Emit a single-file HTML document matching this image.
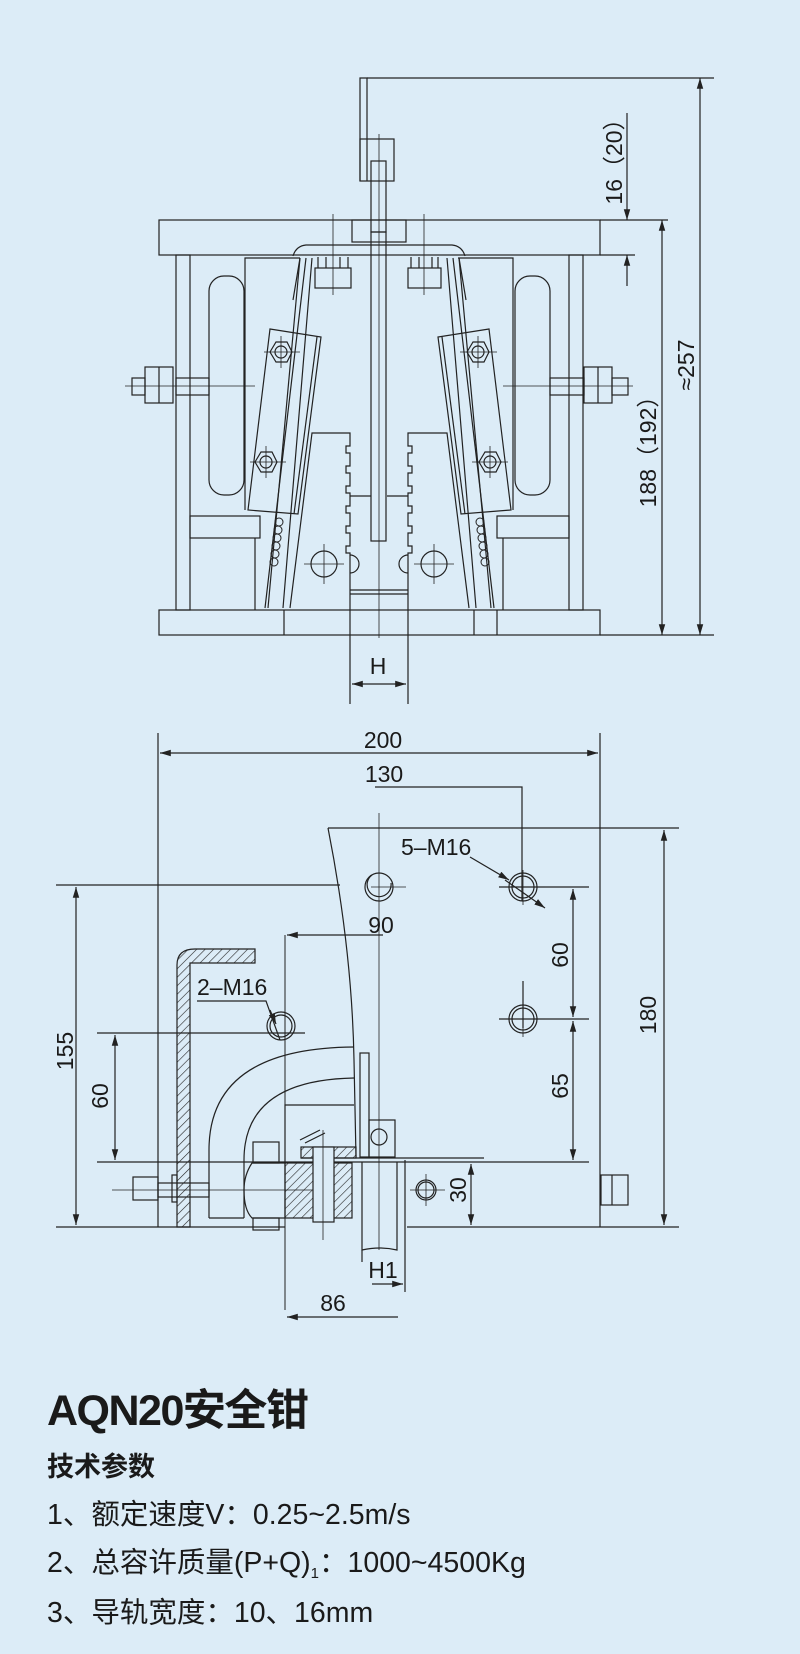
<!DOCTYPE html>
<html><head><meta charset="utf-8"><style>
html,body{margin:0;padding:0;background:#dcecf7;}
svg{display:block;}
.t{font-family:"Liberation Sans","Noto Sans CJK SC",sans-serif;fill:#1a1a1a;}
</style></head><body>
<svg width="800" height="1654" viewBox="0 0 800 1654" xmlns="http://www.w3.org/2000/svg">
<defs>
<pattern id="h" patternUnits="userSpaceOnUse" width="6" height="6" patternTransform="rotate(45)">
<line x1="0" y1="0" x2="0" y2="6" stroke="#222" stroke-width="1.2"/></pattern>
<marker id="a" viewBox="0 0 10 10" refX="10" refY="5" markerWidth="9" markerHeight="9" orient="auto-start-reverse"><path d="M0,2 L10,5 L0,8 z" fill="#222"/></marker>
</defs>
<rect width="800" height="1654" fill="#dcecf7"/>
<g fill="none" stroke="#222" stroke-width="1.2">
<rect x="159" y="220" width="441" height="35"/>
<rect x="159" y="610" width="441" height="25"/>
<line x1="284" y1="610" x2="284" y2="635"/><line x1="474" y1="610" x2="474" y2="635"/><line x1="497" y1="610" x2="497" y2="635"/>
<rect x="176" y="255" width="14" height="355"/><rect x="569" y="255" width="14" height="355"/>
<path d="M245 510 V258 H300"/><path d="M513 510 V258 H458"/>
<rect x="209" y="276" width="35" height="219" rx="15"/><rect x="515" y="276" width="35" height="219" rx="15"/>
<rect x="190" y="516" width="70" height="22"/><rect x="497" y="516" width="72" height="22"/>
<line x1="255" y1="538" x2="255" y2="610"/><line x1="503" y1="538" x2="503" y2="610"/>
<rect x="176" y="378" width="33" height="17"/><rect x="145" y="367" width="28" height="36"/><line x1="159" y1="367" x2="159" y2="403"/><rect x="132" y="378" width="13" height="17"/>
<rect x="550" y="378" width="34" height="17"/><rect x="584" y="367" width="28" height="36"/><line x1="598" y1="367" x2="598" y2="403"/><rect x="612" y="378" width="16" height="17"/>
<line x1="125" y1="386" x2="255" y2="386" stroke-width="0.8"/><line x1="503" y1="386" x2="633" y2="386" stroke-width="0.8"/>
<path d="M293 256 Q296 246 306 245 H452 Q462 246 465 256"/>
<rect x="315" y="268" width="36" height="20"/><rect x="408" y="268" width="33" height="20"/>
<path d="M318 268 V257 M326 268 V257 M340 268 V257 M348 268 V257 M411 268 V257 M419 268 V257 M432 268 V257 M438 268 V257"/>
<line x1="333" y1="214" x2="333" y2="295" stroke-width="0.8"/><line x1="424" y1="214" x2="424" y2="295" stroke-width="0.8"/>
<path d="M367 181 V78 H360 V181"/><line x1="367" y1="78" x2="714" y2="78"/>
<rect x="360" y="139" width="34" height="42"/><rect x="371" y="161" width="15" height="71"/>
<rect x="352" y="220" width="54" height="22"/>
<rect x="371" y="232" width="15" height="309"/>
<line x1="379" y1="134" x2="379" y2="638" stroke-width="0.8"/>
<path d="M306 258 L265 608 M312 258 L283 608 M300 258 L293 300"/>
<path d="M453 258 L494 608 M447 258 L476 608 M459 258 L466 300"/>
<path d="M300 258 L268 608"/><path d="M459 258 L491 608"/>
<polygon points="270,329 321,337 298,514 248,510"/>
<polygon points="489,329 438,337 461,514 511,510"/>
<line x1="317" y1="337" x2="294" y2="514"/><line x1="442" y1="337" x2="465" y2="514"/>
<g><polygon points="270,352 276,342 287,342 292,352 287,362 276,362"/><circle cx="281" cy="352" r="6"/></g>
<g><polygon points="255,462 261,452 272,452 277,462 272,472 261,472"/><circle cx="266" cy="462" r="6"/></g>
<g><polygon points="467,352 473,342 484,342 489,352 484,362 473,362"/><circle cx="478" cy="352" r="6"/></g>
<g><polygon points="479,462 485,452 496,452 501,462 496,472 485,472"/><circle cx="490" cy="462" r="6"/></g>
<g stroke-width="0.8"><path d="M264 352H300M281 336V368M250 462H286M266 446V478M460 352H497M478 336V368M472 462H508M490 446V478"/></g>
<g stroke-width="1"><circle cx="279" cy="522" r="4"/><circle cx="278" cy="530" r="4"/><circle cx="277" cy="538" r="4"/><circle cx="276" cy="546" r="4"/><circle cx="275" cy="554" r="4"/><circle cx="274" cy="562" r="4"/>
<circle cx="480" cy="522" r="4"/><circle cx="481" cy="530" r="4"/><circle cx="482" cy="538" r="4"/><circle cx="483" cy="546" r="4"/><circle cx="484" cy="554" r="4"/><circle cx="485" cy="562" r="4"/></g>
<path d="M290 608 L312 433 H350 V446 H346 V453 H350 V466 H346 V473 H350 V486 H346 V493 H350 V506 H346 V513 H350 V526 H346 V533 H350 V546 H346 V553 H350 V608"/>
<path d="M469 608 L447 433 H408 V446 H412 V453 H408 V466 H412 V473 H408 V486 H412 V493 H408 V506 H412 V513 H408 V526 H412 V533 H408 V546 H412 V553 H408 V608"/>
<path d="M350 496 H371 M387 496 H408"/>
<path d="M350 590 H408 M350 594 H408"/>
<path d="M350 555 A9 9 0 0 1 350 573"/><path d="M408 555 A9 9 0 0 0 408 573"/>
<circle cx="324" cy="564" r="13"/><circle cx="434" cy="564" r="13"/>
<path d="M304 564H344M324 544V584M414 564H454M434 544V584" stroke-width="0.8"/>
<line x1="600" y1="220" x2="668" y2="220"/><line x1="600" y1="255" x2="635" y2="255"/><line x1="600" y1="635" x2="714" y2="635"/>
<line x1="627" y1="113" x2="627" y2="220" marker-end="url(#a)"/><line x1="627" y1="286" x2="627" y2="255" marker-end="url(#a)"/>
<line x1="662" y1="220" x2="662" y2="635" marker-start="url(#a)" marker-end="url(#a)"/>
<line x1="700" y1="78" x2="700" y2="635" marker-start="url(#a)" marker-end="url(#a)"/>
<line x1="350" y1="608" x2="350" y2="704"/><line x1="408" y1="608" x2="408" y2="704"/>
<line x1="352" y1="684" x2="406" y2="684" marker-start="url(#a)" marker-end="url(#a)"/>

<line x1="158" y1="733" x2="158" y2="1227"/><line x1="600" y1="733" x2="600" y2="1227"/>
<line x1="160" y1="753" x2="598" y2="753" marker-start="url(#a)" marker-end="url(#a)"/>
<path d="M375 787 H522 V901 M523 981 V1028"/>
<path d="M328 828 H679"/>
<path d="M328 828 Q352 950 354 1060 L356 1157"/>
<line x1="664" y1="830" x2="664" y2="1225" marker-start="url(#a)" marker-end="url(#a)"/>
<path d="M56 1227 H285 M407 1227 H679"/>
<line x1="56" y1="885" x2="340" y2="885"/>
<line x1="76" y1="887" x2="76" y2="1225" marker-start="url(#a)" marker-end="url(#a)"/>
<line x1="97" y1="1033" x2="305" y2="1033"/>
<line x1="115" y1="1035" x2="115" y2="1160" marker-start="url(#a)" marker-end="url(#a)"/>
<line x1="97" y1="1162" x2="589" y2="1162"/><line x1="301" y1="1158" x2="484" y2="1158"/>
<line x1="499" y1="887" x2="589" y2="887"/><line x1="499" y1="1019" x2="589" y2="1019"/>
<line x1="573" y1="889" x2="573" y2="1017" marker-start="url(#a)" marker-end="url(#a)"/>
<line x1="573" y1="1021" x2="573" y2="1160" marker-start="url(#a)" marker-end="url(#a)"/>
<line x1="471" y1="1164" x2="471" y2="1225" marker-start="url(#a)" marker-end="url(#a)"/>
<line x1="379" y1="813" x2="379" y2="1250" stroke-width="0.8"/>
<circle cx="379" cy="887" r="14"/><path d="M372 875 A12 12 0 1 0 391 883" />
<circle cx="523" cy="887" r="14"/><circle cx="523" cy="887" r="11"/>
<circle cx="523" cy="1019" r="14"/><circle cx="523" cy="1019" r="11"/>
<circle cx="281" cy="1026" r="14"/><circle cx="281" cy="1026" r="11"/>
<line x1="371" y1="887" x2="406" y2="887" stroke-width="0.8"/>
<line x1="505" y1="880" x2="545" y2="908" marker-end="url(#a)"/>
<line x1="470" y1="857" x2="509" y2="880" marker-end="url(#a)"/>
<line x1="285" y1="935" x2="285" y2="1310" stroke-width="1"/>
<line x1="383" y1="935" x2="287" y2="935" marker-end="url(#a)"/>
<path d="M197 1001 H266 L280 1040" /><line x1="270" y1="1010" x2="276" y2="1024" marker-end="url(#a)"/>
<path d="M177 1227 V965 Q177 949 195 949 H255 V963 H190 V1227 Z" fill="url(#h)"/>
<path d="M209 1218 V1150 Q209 1048 354 1047"/><path d="M244 1218 V1160 Q244 1080 354 1078"/>
<line x1="209" y1="1218" x2="244" y2="1218"/>
<path d="M285 1218 V1105 H354"/>
<rect x="133" y="1177" width="25" height="23"/><rect x="158" y="1183" width="51" height="14"/><rect x="172" y="1175" width="5" height="27"/>
<line x1="112" y1="1190" x2="320" y2="1190" stroke-width="0.8"/>
<path d="M285 1163 H252 Q244 1175 244 1190 Q244 1210 252 1218 H285" />
<rect x="253" y="1142" width="26" height="21"/><rect x="253" y="1218" width="26" height="12"/>
<rect x="285" y="1163" width="67" height="55" fill="url(#h)"/>
<rect x="301" y="1147" width="55" height="11" fill="url(#h)"/>
<rect x="313" y="1147" width="21" height="75" fill="#dcecf7"/>
<path d="M300 1140 L320 1130 M305 1143 L325 1133" />
<line x1="323" y1="1130" x2="323" y2="1240" stroke-width="0.8"/>
<rect x="360" y="1053" width="9" height="104"/><rect x="369" y="1120" width="26" height="37"/><circle cx="379" cy="1137" r="8"/>
<path d="M362 1162 V1250 Q380 1246 397 1250 V1162"/>
<line x1="362" y1="1250" x2="362" y2="1262"/><line x1="405" y1="1160" x2="405" y2="1292"/>
<line x1="372" y1="1284" x2="403" y2="1284" marker-end="url(#a)"/>
<circle cx="426" cy="1190" r="10"/><circle cx="426" cy="1190" r="8"/><path d="M410 1190H445M426 1174V1206" stroke-width="0.8"/>
<rect x="601" y="1175" width="27" height="30"/><line x1="612" y1="1175" x2="612" y2="1205"/>
<line x1="398" y1="1317" x2="287" y2="1317" marker-end="url(#a)"/>
<path d="M505 887H545M523 870V905M505 1019H545M523 1000V1037" stroke-width="0.8"/>
</g>
<g class="t" font-size="23">
<text x="378" y="674" text-anchor="middle">H</text>
<text x="383" y="748" text-anchor="middle">200</text>
<text x="384" y="782" text-anchor="middle">130</text>
<text x="401" y="855">5–M16</text>
<text x="381" y="933" text-anchor="middle">90</text>
<text x="197" y="995">2–M16</text>
<text x="383" y="1278" text-anchor="middle">H1</text>
<text x="333" y="1311" text-anchor="middle">86</text>
<text transform="translate(622,156) rotate(-90)" text-anchor="middle">16（20）</text>
<text transform="translate(656,446) rotate(-90)" text-anchor="middle">188（192）</text>
<text transform="translate(694,365) rotate(-90)" text-anchor="middle">≈257</text>
<text transform="translate(656,1015) rotate(-90)" text-anchor="middle">180</text>
<text transform="translate(73,1051) rotate(-90)" text-anchor="middle">155</text>
<text transform="translate(108,1096) rotate(-90)" text-anchor="middle">60</text>
<text transform="translate(568,955) rotate(-90)" text-anchor="middle">60</text>
<text transform="translate(568,1086) rotate(-90)" text-anchor="middle">65</text>
<text transform="translate(466,1190) rotate(-90)" text-anchor="middle">30</text>
</g>
<g class="t">
<text x="47" y="1425" font-size="43" font-weight="bold" letter-spacing="-1.5">AQN20安全钳</text>
<text x="47" y="1476" font-size="27" font-weight="bold">技术参数</text>
<text x="47" y="1524" font-size="28.5">1、额定速度V：0.25~2.5m/s</text>
<text x="47" y="1572" font-size="28.5">2、总容许质量(P+Q)<tspan font-size="15" dy="6">1</tspan><tspan dy="-6">：1000~4500Kg</tspan></text>
<text x="47" y="1622" font-size="28.5">3、导轨宽度：10、16mm</text>
</g>
</svg>
</body></html>
